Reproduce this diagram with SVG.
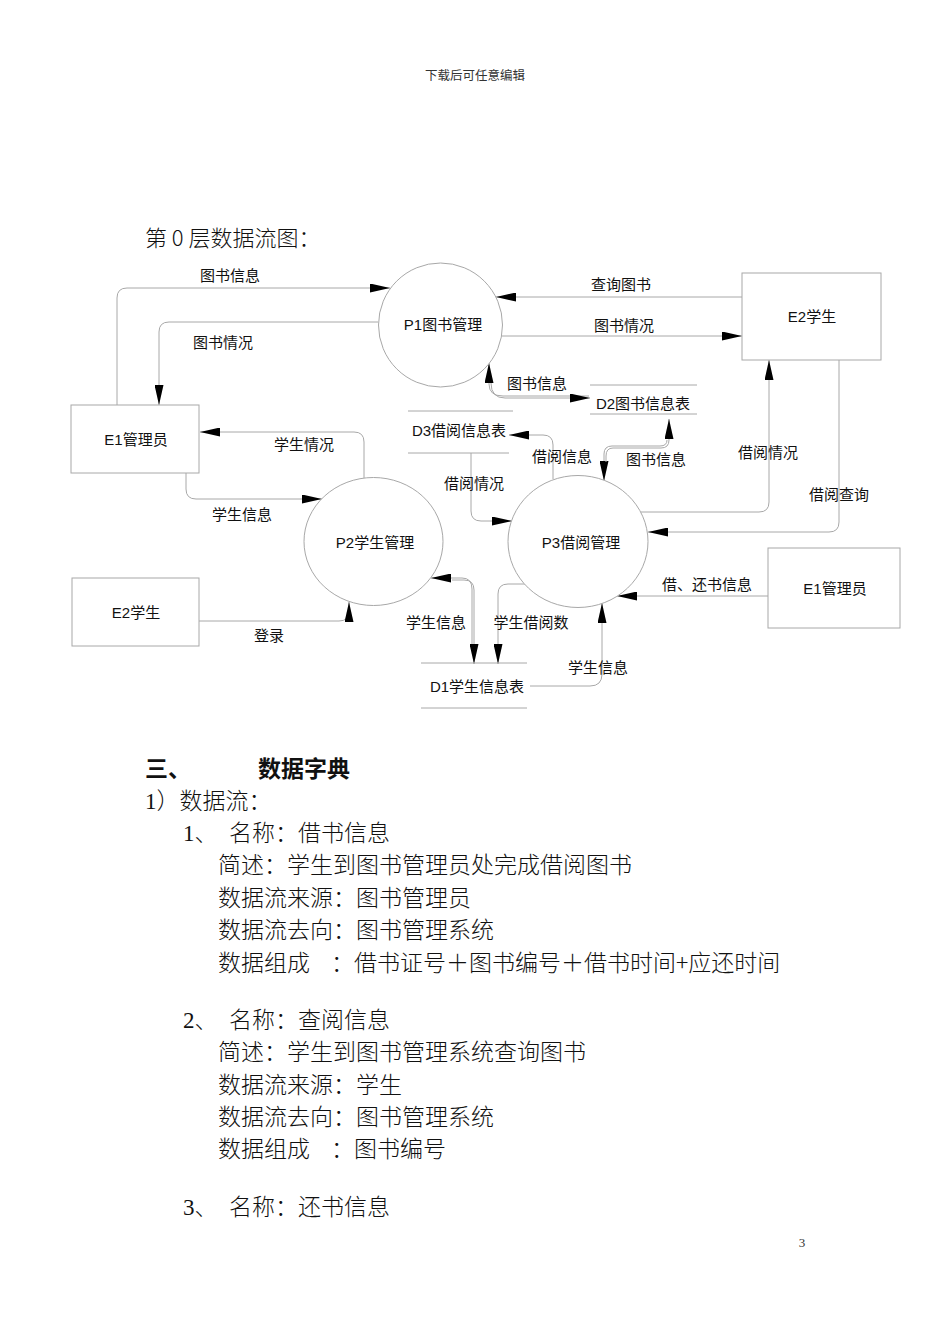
<svg xmlns="http://www.w3.org/2000/svg" width="950" height="1344" viewBox="0 0 950 1344">
<style>
.bg{fill:#ffffff}
.ent{fill:#ffffff;stroke:#a8a8a8;stroke-width:1}
.proc{fill:#ffffff;stroke:#a8a8a8;stroke-width:1}
.store{stroke:#a8a8a8;stroke-width:1;fill:none}
.flow{fill:none;stroke:#a8a8a8;stroke-width:1}
.arr{marker-end:url(#ah)}
.lbl{font-family:"Liberation Sans","Noto Sans CJK SC",sans-serif;font-size:15px;fill:#111;text-anchor:middle}
.body{font-family:"Noto Sans CJK SC",sans-serif;font-size:23px;font-weight:300;fill:#111}
.num{font-family:"Liberation Serif","Noto Sans CJK SC",serif}
.hd{font-family:"Liberation Serif","Noto Sans CJK SC",serif;font-size:12.5px;fill:#333;text-anchor:middle}
</style>
<defs>
<marker id="ah" markerUnits="userSpaceOnUse" markerWidth="20" markerHeight="9" refX="20" refY="4.5" orient="auto">
<path d="M0,0 L20,4.5 L0,9 z" fill="#000"/>
</marker>
</defs>
<rect class="bg" x="0" y="0" width="950" height="1344"/>

<text class="hd" x="475" y="80">下载后可任意编辑</text>
<text class="body" x="145" y="246" style="font-size:22px">第 0 层数据流图：</text>

<g id="connectors">
<path class="flow arr" d="M117,405 L117,298 Q117,288 127,288 L390,288"/>
<path class="flow arr" d="M378,322 L169,322 Q159,322 159,332 L159,405"/>
<path class="flow arr" d="M742,297 L496,297"/>
<path class="flow arr" d="M502,336 L742,336"/>
<path class="flow arr" d="M589,396 L503,396 Q489,396 489,384 L489,363"/>
<path class="flow arr" d="M491,383 Q491,398 505,398 L590,398"/>
<path class="flow arr" d="M553,479 L553,445 Q553,435 543,435 L509,435"/>
<path class="flow arr" d="M667,440 Q667,446 660,446 L612,446 Q604,446 604,454 L604,481"/>
<path class="flow arr" d="M606,462 L606,456 Q606,448 613,448 L661,448 Q669,448 669,440 L669,419"/>
<path class="flow arr" d="M471,453 L471,511 Q471,521 481,521 L512,521"/>
<path class="flow arr" d="M364,478 L364,442 Q364,432 354,432 L200,432"/>
<path class="flow arr" d="M186,473 L186,489 Q186,499 196,499 L322,499"/>
<path class="flow arr" d="M199,621 L339,621 Q349,621 349,611 L349,602"/>
<path class="flow arr" d="M472,650 L472,589 Q472,578 462,578 L431,578"/>
<path class="flow arr" d="M452,580 L464,580 Q474,580 474,590 L474,664"/>
<path class="flow arr" d="M525,584 L508,584 Q498,584 498,594 L498,664"/>
<path class="flow arr" d="M530,686 L590,686 Q602,686 602,674 L602,603"/>
<path class="flow arr" d="M641,512 L759,512 Q769,512 769,502 L769,360"/>
<path class="flow arr" d="M839,360 L839,522 Q839,532 829,532 L648,532"/>
<path class="flow arr" d="M768,596 L617,596"/>

<text class="lbl" x="230" y="281">图书信息</text>
<text class="lbl" x="223" y="348">图书情况</text>
<text class="lbl" x="621" y="290">查询图书</text>
<text class="lbl" x="624" y="331">图书情况</text>
<text class="lbl" x="537" y="389">图书信息</text>
<text class="lbl" x="562" y="462">借阅信息</text>
<text class="lbl" x="656" y="465">图书信息</text>
<text class="lbl" x="474" y="489">借阅情况</text>
<text class="lbl" x="304" y="450">学生情况</text>
<text class="lbl" x="768" y="458">借阅情况</text>
<text class="lbl" x="242" y="520">学生信息</text>
<text class="lbl" x="839" y="500">借阅查询</text>
<text class="lbl" x="707" y="590">借、还书信息</text>
<text class="lbl" x="269" y="641">登录</text>
<text class="lbl" x="436" y="628">学生信息</text>
<text class="lbl" x="531" y="628">学生借阅数</text>
<text class="lbl" x="598" y="673">学生信息</text>
</g>

<g id="P1">
<circle class="proc" cx="440.5" cy="325" r="62"/>
<text class="lbl" x="443" y="330">P1图书管理</text>
</g>
<g id="P2">
<ellipse class="proc" cx="373.5" cy="541.5" rx="69.5" ry="64"/>
<text class="lbl" x="375" y="548">P2学生管理</text>
</g>
<g id="P3">
<ellipse class="proc" cx="578" cy="541.5" rx="70" ry="66"/>
<text class="lbl" x="581" y="548">P3借阅管理</text>
</g>
<g id="E2top">
<rect class="ent" x="742" y="273" width="139" height="87"/>
<text class="lbl" x="812" y="322">E2学生</text>
</g>
<g id="E1left">
<rect class="ent" x="71" y="405" width="128" height="68"/>
<text class="lbl" x="136" y="445">E1管理员</text>
</g>
<g id="E2bottom">
<rect class="ent" x="72" y="578" width="127" height="68"/>
<text class="lbl" x="136" y="618">E2学生</text>
</g>
<g id="E1right">
<rect class="ent" x="768" y="548" width="132" height="80"/>
<text class="lbl" x="835" y="594">E1管理员</text>
</g>
<g id="D2">
<path class="store" d="M590,385 L697,385 M590,414 L697,414"/>
<text class="lbl" x="643" y="409">D2图书信息表</text>
</g>
<g id="D3">
<path class="store" d="M408,411 L513,411 M408,453 L509,453"/>
<text class="lbl" x="459" y="436">D3借阅信息表</text>
</g>
<g id="D1">
<path class="store" d="M421,663 L527,663 M421,708 L527,708"/>
<text class="lbl" x="477" y="692">D1学生信息表</text>
</g>

<text class="body" x="145" y="777" style="font-weight:bold">三、</text>
<text class="body" x="258" y="777" style="font-weight:bold">数据字典</text>
<text class="body" x="145" y="809"><tspan class="num">1</tspan>）数据流：</text>
<text class="body" x="183" y="841"><tspan class="num">1</tspan>、</text>
<text class="body" x="229" y="841">名称：借书信息</text>
<text class="body" x="218" y="873">简述：学生到图书管理员处完成借阅图书</text>
<text class="body" x="218" y="906">数据流来源：图书管理员</text>
<text class="body" x="218" y="938">数据流去向：图书管理系统</text>
<text class="body" x="218" y="971">数据组成</text>
<text class="body" x="331" y="971">：借书证号＋图书编号＋借书时间+应还时间</text>
<text class="body" x="183" y="1028"><tspan class="num">2</tspan>、</text>
<text class="body" x="229" y="1028">名称：查阅信息</text>
<text class="body" x="218" y="1060">简述：学生到图书管理系统查询图书</text>
<text class="body" x="218" y="1093">数据流来源：学生</text>
<text class="body" x="218" y="1125">数据流去向：图书管理系统</text>
<text class="body" x="218" y="1157">数据组成</text>
<text class="body" x="331" y="1157">：图书编号</text>
<text class="body" x="183" y="1215"><tspan class="num">3</tspan>、</text>
<text class="body" x="229" y="1215">名称：还书信息</text>
<text class="hd" x="802" y="1247" style="font-size:13px">3</text>
</svg>
